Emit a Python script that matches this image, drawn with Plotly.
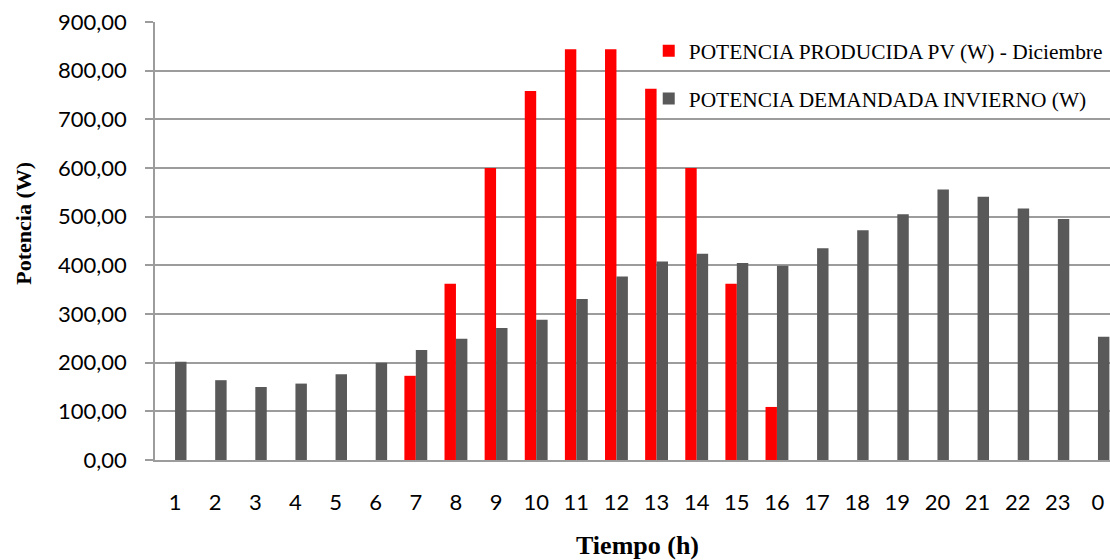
import plotly.graph_objects as go

# Hourly categories (1..23, then 0 for midnight)
horas = [str(h) for h in range(1, 24)] + ["0"]

# PV power produced in December (W); no production outside daylight hours
potencia_pv = [None, None, None, None, None, None,
               173, 362, 600, 758, 844, 844, 763, 600, 362, 109,
               None, None, None, None, None, None, None, None]

# Winter power demand (W)
potencia_demanda = [202, 164, 150, 157, 176, 200, 226, 249, 271, 288, 331, 377,
                    408, 424, 405, 399, 435, 472, 505, 556, 541, 517, 495, 253]

y_ticks = [0, 100, 200, 300, 400, 500, 600, 700, 800, 900]

GRID = "#9c9c9c"

fig = go.Figure()
fig.add_trace(go.Bar(
    x=horas, y=potencia_pv,
    name="POTENCIA PRODUCIDA PV (W) - Diciembre",
    marker=dict(color="#FF0000", line=dict(width=0)),
    legendgroup="pv",
))
fig.add_trace(go.Bar(
    x=horas, y=potencia_demanda,
    name="POTENCIA DEMANDADA INVIERNO (W)",
    marker=dict(color="#595959", line=dict(width=0)),
    legendgroup="dem",
))

fig.update_layout(
    width=1110, height=560,
    margin=dict(l=155, r=0, t=22, b=100, autoexpand=False),
    paper_bgcolor="white", plot_bgcolor="white",
    barmode="group", bargap=0.43, bargroupgap=0,
    separators=",.",
    showlegend=True,
    legend=dict(
        x=0.517, y=0.981, xanchor="left", yanchor="top",
        bgcolor="rgba(0,0,0,0)",
        font=dict(family="Liberation Serif", size=21.4, color="black"),
        traceorder="grouped", tracegroupgap=17,
        itemclick=False,
    ),
    xaxis=dict(
        type="category",
        range=[-0.5, 23.3],
        showgrid=False, zeroline=False,
        showline=True, linecolor=GRID, linewidth=1.5,
        ticks="", ticklabelstandoff=22,
        tickfont=dict(family="Lato", size=22, color="black"),
    ),
    yaxis=dict(
        range=[0, 900],
        tickvals=y_ticks, tickformat=".2f",
        showgrid=True, gridcolor=GRID, gridwidth=1.5,
        zeroline=False,
        showline=True, linecolor=GRID, linewidth=1.5,
        ticks="outside", ticklen=8, tickcolor=GRID, tickwidth=1.5,
        ticklabelstandoff=14,
        tickfont=dict(family="Lato", size=22, color="black"),
    ),
    annotations=[
        dict(text="<b>Tiempo (h)</b>", xref="paper", yref="paper",
             x=0.505, y=-0.195, xanchor="center", yanchor="middle",
             showarrow=False,
             font=dict(family="Liberation Serif", size=26, color="black")),
        dict(text="<b>Potencia (W)</b>", xref="paper", yref="paper",
             x=-0.138, y=0.54, xanchor="center", yanchor="middle",
             textangle=-90, showarrow=False,
             font=dict(family="Liberation Serif", size=22, color="black")),
    ],
)

fig.write_html("out.html")
